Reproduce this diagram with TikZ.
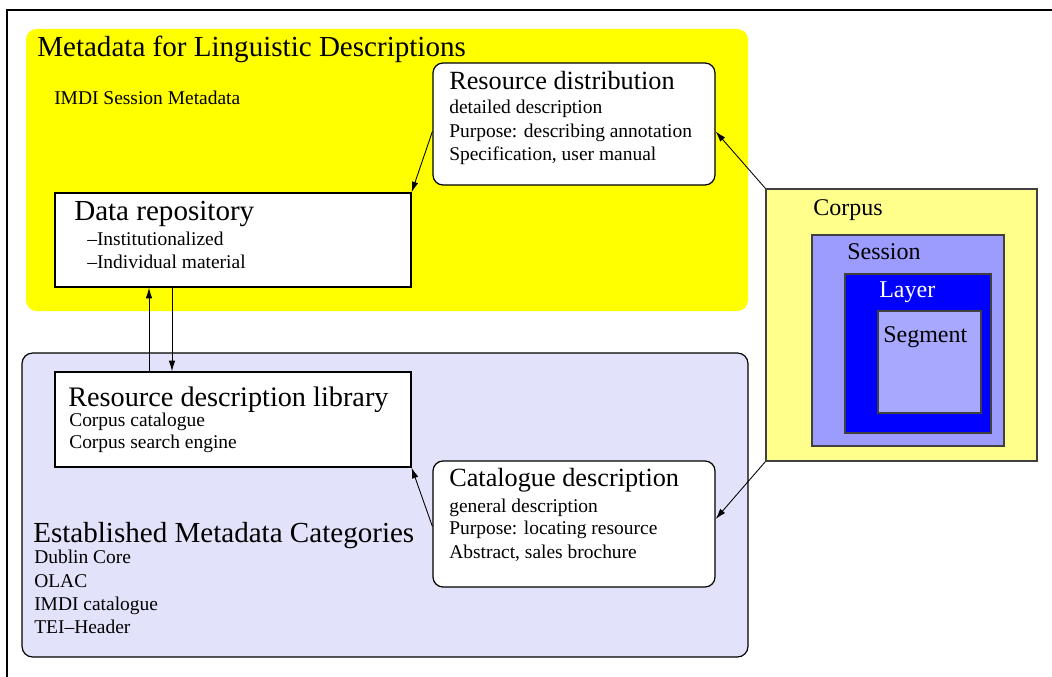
\documentclass[tikz,border=0pt]{standalone}
\usepackage{fontspec}
\setmainfont{Liberation Serif}
\usetikzlibrary{arrows.meta,fit,calc}

\definecolor{metayellow}{HTML}{FFFF00}
\definecolor{catlav}{HTML}{E2E2FA}
\definecolor{corpusfill}{HTML}{FFFF8C}
\definecolor{sessionfill}{HTML}{9C9CFF}
\definecolor{layerfill}{HTML}{0000FF}
\definecolor{segmentfill}{HTML}{A8A8FF}
\definecolor{nestline}{HTML}{404040}

\begin{document}
\begin{tikzpicture}[x=0.75pt,y=-0.75pt,
  region/.style={inner sep=0pt, rounded corners=8pt},
  plainbox/.style={draw=black, line width=0.9pt, fill=white, inner sep=0pt},
  roundbox/.style={plainbox, rounded corners=7.5pt},
  nestbox/.style={draw=nestline, line width=1.1pt, inner sep=0pt},
  txt/.style={anchor=base west, inner sep=0pt, font=\fontsize{14.6}{17}\selectfont},
  boxtitle/.style={anchor=base west, inner sep=0pt, font=\fontsize{19.7}{22}\selectfont},
  bigtitle/.style={anchor=base west, inner sep=0pt, font=\fontsize{21.8}{24}\selectfont},
  nesttitle/.style={anchor=base west, inner sep=0pt, font=\fontsize{18}{20}\selectfont},
  arr/.style={-{Latex[length=8pt,width=4.8pt]}, line width=0.65pt},
  frameline/.style={line width=1.1pt}]

\useasboundingbox (0,0) rectangle (1052,677);

% page frame (open to the right and bottom)
\draw[frameline] (1070,10) -- (7,10) -- (7,690);

% the two large regions
\node[region, fill=metayellow, fit={(26,29) (748,311)}] (mld) {};
\node[region, fill=catlav, draw=black, line width=0.9pt, fit={(22,353) (748,657)}] (emc) {};

% boxes
\node[roundbox, fit={(433,63) (715,185)}] (rd) {};
\node[plainbox, fit={(55,193) (411,287)}] (dr) {};
\node[plainbox, fit={(55,372) (411,467)}] (rdl) {};
\node[roundbox, fit={(433,461) (715,587)}] (cd) {};

% nested corpus structure
\node[nestbox, fill=corpusfill, fit={(766,189) (1037,461)}] (corpus) {};
\node[nestbox, fill=sessionfill, fit={(812,235) (1004,446)}] (session) {};
\node[nestbox, fill=layerfill, fit={(845,274) (991,433)}] (layer) {};
\node[nestbox, fill=segmentfill, fit={(878,311) (981,413)}] (segment) {};

% region texts
\node[bigtitle] (mldT) at (37,57) {Metadata for Linguistic Descriptions};
\node[txt] (mldA) at (54,105) {IMDI Session Metadata};

\node[bigtitle] (emcT) at (33,542) {Established Metadata Categories};
\node[txt] (emcA) at (34,563) {Dublin Core};
\node[txt] (emcB) at (34,587) {OLAC};
\node[txt] (emcC) at (34,610) {IMDI catalogue};
\node[txt] (emcD) at (34,633) {TEI\textendash Header};

% box texts
\node[boxtitle] (rdT) at (449,90) {Resource distribution};
\node[txt] (rdA) at (449,114) {detailed description};
\node[txt] (rdB) at (449,138) {Purpose: describing annotation};
\node[txt] (rdC) at (449,161) {Specification, user manual};

\node[bigtitle] (drT) at (74,221) {Data repository};
\node[txt] (drA) at (87,245) {\textendash Institutionalized};
\node[txt] (drB) at (87,268) {\textendash Individual material};

\node[bigtitle, font=\fontsize{21.2}{24}\selectfont] (rdlT) at (68,406) {Resource description library};
\node[txt] (rdlA) at (69,426) {Corpus catalogue};
\node[txt] (rdlB) at (69,448) {Corpus search engine};

\node[boxtitle] (cdT) at (449,486) {Catalogue description};
\node[txt] (cdA) at (449,512) {general description};
\node[txt] (cdB) at (449,534) {Purpose: locating resource};
\node[txt] (cdC) at (449,558) {Abstract, sales brochure};

% nested texts
\node[nesttitle] (corpusT) at (813,216) {Corpus};
\node[nesttitle] (sessionT) at (847,259) {Session};
\node[nesttitle, text=white] (layerT) at (879,297) {Layer};
\node[nesttitle] (segmentT) at (883,342) {Segment};

% connectors
\coordinate (upx) at (149,0);
\coordinate (downx) at (172,0);
\draw[arr] (upx |- rdl.north) -- (upx |- dr.south);
\draw[arr] (downx |- dr.south) -- (downx |- rdl.north);

\draw[arr] (rd.183) -- (dr.north east);
\draw[arr] (cd.181) -- (rdl.south east);
\draw[arr] (corpus.north west) -- (rd.-3);
\draw[arr] (corpus.south west) -- (cd.2);

\end{tikzpicture}
\end{document}
